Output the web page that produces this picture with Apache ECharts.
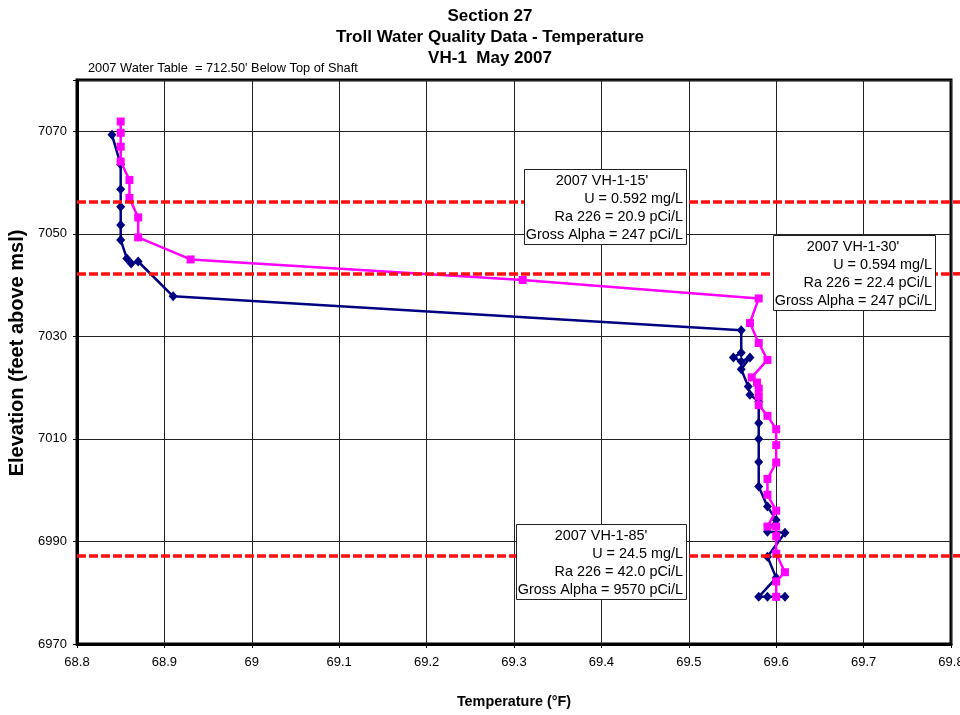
<!DOCTYPE html>
<html>
<head>
<meta charset="utf-8">
<script src="https://cdn.jsdelivr.net/npm/echarts@6/dist/echarts.min.js"></script>
<style>
  html, body { margin: 0; padding: 0; background: #fff; }
  #chart { width: 960px; height: 715px; }
</style>
</head>
<body>
<div id="chart"></div>
<script>
// ---- Text ----
const titleLines = ['Section 27', 'Troll Water Quality Data - Temperature', 'VH-1  May 2007'];
const waterTableNote = "2007 Water Table  = 712.50' Below Top of Shaft";
const xAxisTitle = 'Temperature (°F)';
const yAxisTitle = 'Elevation (feet above msl)';

// ---- Axis ranges ----
const tempRange = [68.8, 69.8];
const tempStep = 0.1;
const elevRange = [6970, 7080];
const elevStep = 20;

// ---- Profile A (navy diamonds): temperature (°F) vs elevation (ft msl) ----
const profileATemp = [68.84, 68.85, 68.85, 68.85, 68.85, 68.85, 68.857, 68.862, 68.87, 68.91,
  69.56, 69.56, 69.551, 69.56, 69.57, 69.56, 69.568, 69.57, 69.58, 69.58,
  69.58, 69.58, 69.58, 69.59, 69.60, 69.59, 69.61, 69.59, 69.60,
  69.58, 69.59, 69.60, 69.61];
const profileAElev = [7069.3, 7063.5, 7058.7, 7055.3, 7051.7, 7048.8, 7045.2, 7044.2, 7044.6, 7037.8,
  7031.2, 7026.8, 7025.9, 7025.1, 7025.9, 7023.6, 7020.2, 7018.6, 7017.3, 7013.1,
  7010.0, 7005.5, 7000.7, 6996.8, 6994.2, 6991.9, 6991.7, 6987.0, 6982.9,
  6979.2, 6979.2, 6979.2, 6979.2];

// ---- Profile B (magenta squares) ----
const profileBTemp = [68.85, 68.85, 68.85, 68.85, 68.86, 68.86, 68.87, 68.87, 68.93, 69.31,
  69.58, 69.57, 69.58, 69.59, 69.572, 69.578, 69.58, 69.58, 69.58, 69.59,
  69.60, 69.60, 69.60, 69.59, 69.59, 69.60, 69.59, 69.60, 69.60, 69.60,
  69.61, 69.60, 69.60];
const profileBElev = [7071.9, 7069.7, 7067.0, 7064.1, 7060.5, 7057.0, 7053.2, 7049.3, 7045.0, 7041.0,
  7037.4, 7032.6, 7028.7, 7025.4, 7022.0, 7021.0, 7019.8, 7018.3, 7016.6, 7014.5,
  7011.9, 7008.8, 7005.4, 7002.2, 6999.1, 6996.0, 6992.9, 6992.9, 6991.0, 6987.6,
  6984.0, 6982.2, 6979.2];

// ---- Sample depths (red dashed lines) and their lab results ----
const sampleElev = [7056.2, 7042.2, 6987.2];
const sampleNotes = [
  ["2007 VH-1-15'", 'U = 0.592 mg/L', 'Ra 226 = 20.9 pCi/L', 'Gross Alpha = 247 pCi/L'],
  ["2007 VH-1-30'", 'U = 0.594 mg/L', 'Ra 226 = 22.4 pCi/L', 'Gross Alpha = 247 pCi/L'],
  ["2007 VH-1-85'", 'U = 24.5 mg/L', 'Ra 226 = 42.0 pCi/L', 'Gross Alpha = 9570 pCi/L']
];

// ---- Layout of the note boxes (pixels) ----
const noteBoxes = [
  { x: 524, y: 169, w: 162, h: 75, head: 602 },
  { x: 773, y: 235, w: 162, h: 75, head: 853 },
  { x: 516, y: 524, w: 170, h: 75, head: 601 }
];
const noteLineOffsets = [12.5, 30.5, 48.5, 66.5];

const FONT = 'Arial, "Liberation Sans", sans-serif';
const SAMPLE_LINE = { color: '#ff1010', width: 3.5, dash: [9, 3] };

function pairs(xs, ys) { return xs.map((x, i) => [x, ys[i]]); }

const graphics = [];
titleLines.forEach((t, i) => {
  graphics.push({
    type: 'text', x: 490, y: 16 + i * 21, z: 100,
    style: { text: t, fill: '#000', font: 'bold 17px ' + FONT, textAlign: 'center', textVerticalAlign: 'middle' }
  });
});
graphics.push({
  type: 'text', x: 88, y: 68, z: 100,
  style: { text: waterTableNote, fill: '#000', font: '12.8px ' + FONT, textAlign: 'left', textVerticalAlign: 'middle' }
});
noteBoxes.forEach((b, k) => {
  graphics.push({
    type: 'rect', z: 100,
    shape: { x: b.x + 0.5, y: b.y + 0.5, width: b.w, height: b.h },
    style: { fill: '#fff', stroke: '#222', lineWidth: 1 }
  });
  sampleNotes[k].forEach((line, i) => {
    const first = i === 0;
    graphics.push({
      type: 'text', z: 101,
      x: first ? b.head : b.x + b.w - 3,
      y: b.y + noteLineOffsets[i],
      style: { text: line, fill: '#000', font: '14.4px ' + FONT, textAlign: first ? 'center' : 'right', textVerticalAlign: 'middle' }
    });
  });
});

const chart = echarts.init(document.getElementById('chart'), null, { renderer: 'canvas' });
chart.setOption({
  animation: false,
  backgroundColor: '#fff',
  grid: {
    left: 77, right: 9, top: 80, bottom: 71,
    containLabel: false, outerBoundsMode: 'none',
    show: true, borderColor: '#000', borderWidth: 3, backgroundColor: 'transparent'
  },
  xAxis: {
    type: 'value', min: tempRange[0], max: tempRange[1], interval: tempStep,
    name: xAxisTitle, nameLocation: 'middle', nameGap: 51,
    nameTextStyle: { fontFamily: FONT, fontWeight: 'bold', fontSize: 14.4, color: '#000' },
    axisLine: { show: true, onZero: false, lineStyle: { color: '#000', width: 3 } },
    axisTick: { show: true, length: 4, lineStyle: { color: '#000', width: 1 } },
    axisLabel: { fontFamily: FONT, fontSize: 13, color: '#000', margin: 12, showMaxLabel: true, showMinLabel: true, hideOverlap: false },
    splitLine: { show: true, lineStyle: { color: '#222', width: 1 } }
  },
  yAxis: {
    type: 'value', min: elevRange[0], max: elevRange[1], interval: elevStep,
    name: yAxisTitle, nameLocation: 'middle', nameGap: 47, nameRotate: 90,
    nameTextStyle: { fontFamily: FONT, fontWeight: 'bold', fontSize: 20, color: '#000', padding: [0, 0, 0, 18] },
    axisLine: { show: true, onZero: false, lineStyle: { color: '#000', width: 3 } },
    axisTick: { show: true, length: 4, lineStyle: { color: '#000', width: 1 } },
    axisLabel: {
      fontFamily: FONT, fontSize: 13, color: '#000', margin: 10,
      formatter: v => ((v - elevRange[0]) % elevStep === 0 ? String(v) : '')
    },
    splitLine: { show: true, lineStyle: { color: '#222', width: 1 } }
  },
  graphic: graphics,
  series: [
    {
      // sample-depth reference lines
      type: 'line', data: [], z: 1, silent: true,
      markLine: {
        silent: true, symbol: 'none', label: { show: false },
        lineStyle: { color: SAMPLE_LINE.color, width: SAMPLE_LINE.width, type: SAMPLE_LINE.dash },
        data: sampleElev.map(e => ({ yAxis: e }))
      }
    },
    {
      name: 'Profile A', type: 'line', z: 3,
      data: pairs(profileATemp, profileAElev),
      symbol: 'diamond', symbolSize: [9, 10],
      lineStyle: { color: '#000080', width: 2.5 },
      itemStyle: { color: '#000080' }
    },
    {
      name: 'Profile B', type: 'line', z: 4,
      data: pairs(profileBTemp, profileBElev),
      symbol: 'rect', symbolSize: 8,
      lineStyle: { color: '#ff00ff', width: 2.5 },
      itemStyle: { color: '#ff00ff' }
    }
  ]
});

// The sample-depth lines run on past the right frame to the page edge.
const stubs = sampleElev.map(e => {
  const p = chart.convertToPixel({ gridIndex: 0 }, [tempRange[1], e]);
  return {
    type: 'line', z: 0,
    shape: { x1: p[0] + 2, y1: p[1], x2: 960, y2: p[1] },
    style: { stroke: SAMPLE_LINE.color, lineWidth: SAMPLE_LINE.width, lineDash: SAMPLE_LINE.dash }
  };
});
chart.setOption({ graphic: graphics.concat(stubs) });
</script>
</body>
</html>
